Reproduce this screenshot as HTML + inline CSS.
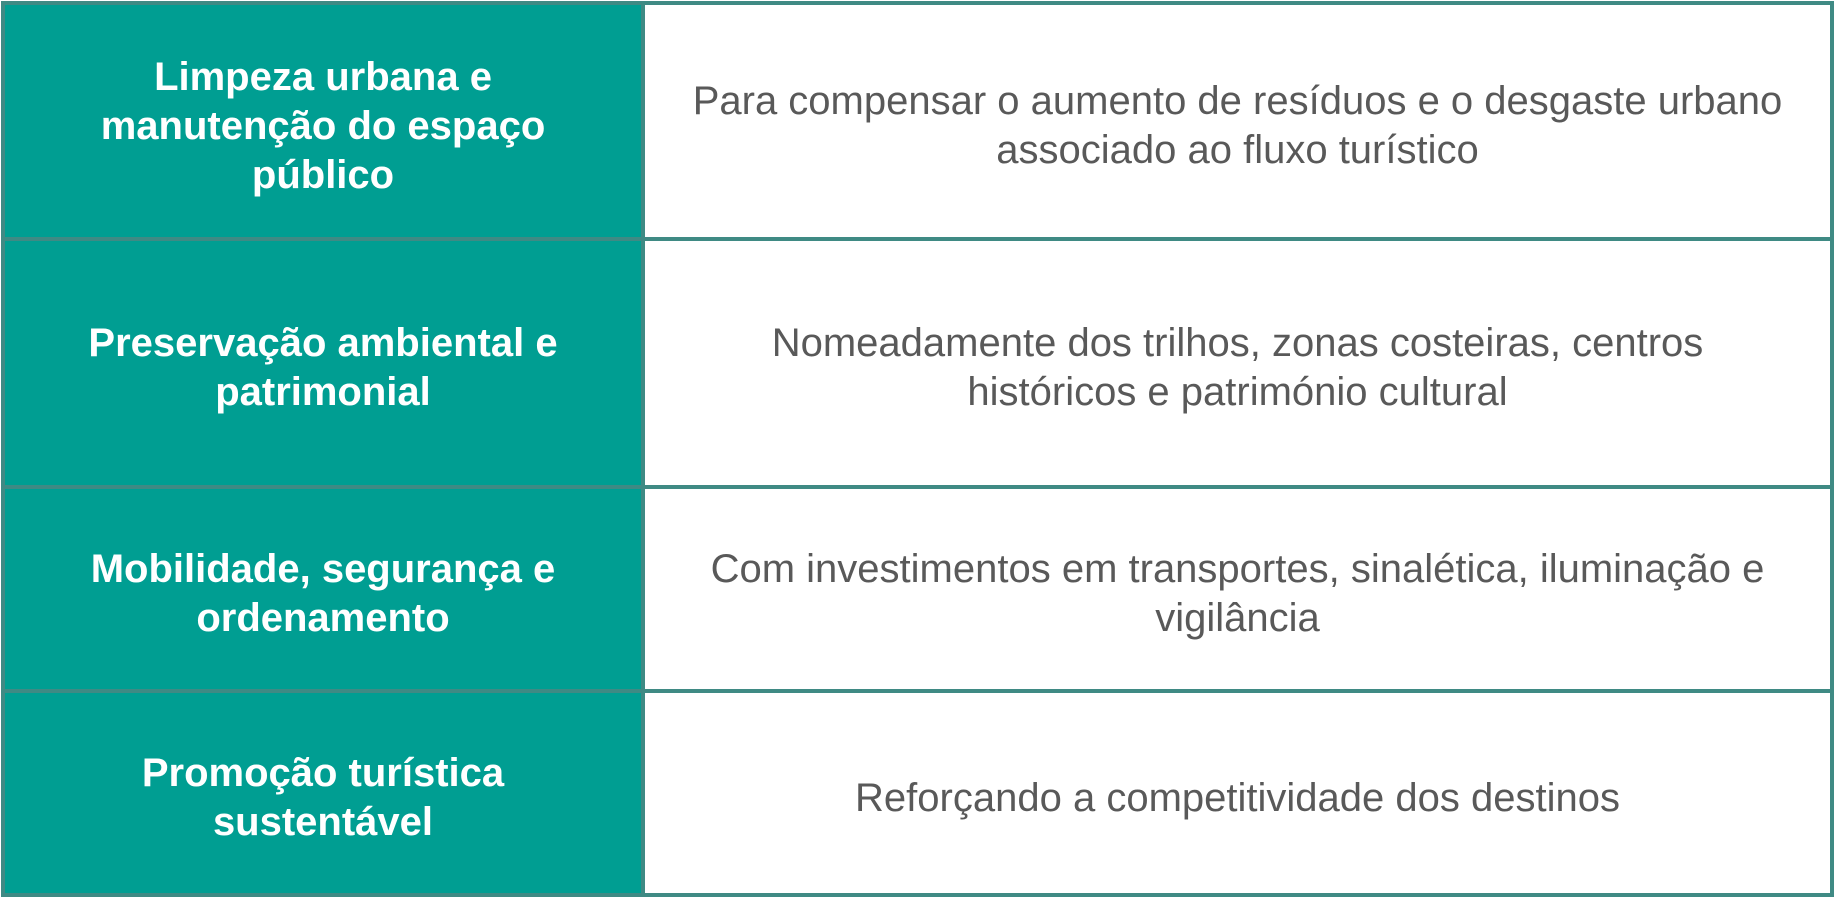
<!DOCTYPE html>
<html><head><style>
body{margin:0;width:1838px;height:901px;background:#fff;position:relative;overflow:hidden}
.l{position:absolute;background:#3f8a84}
.c{position:absolute;display:flex;align-items:center;justify-content:center;text-align:center;box-sizing:border-box;padding-top:10px}
.k{left:5px;width:636px;background:#009e92;color:#fff;font:bold 40px "Liberation Sans",sans-serif;line-height:49px}
.v{left:645px;width:1185px;color:#595959;font:40px "Liberation Sans",sans-serif;line-height:49px}
</style></head><body>
<div class="c k" style="top:5px;height:232px">Limpeza urbana e<br>manutenção do espaço<br>público</div>
<div class="c v" style="top:5px;height:232px">Para compensar o aumento de resíduos e o desgaste urbano<br>associado ao fluxo turístico</div>
<div class="c k" style="top:241px;height:244px">Preservação ambiental e<br>patrimonial</div>
<div class="c v" style="top:241px;height:244px">Nomeadamente dos trilhos, zonas costeiras, centros<br>históricos e património cultural</div>
<div class="c k" style="top:489px;height:200px">Mobilidade, segurança e<br>ordenamento</div>
<div class="c v" style="top:489px;height:200px">Com investimentos em transportes, sinalética, iluminação e<br>vigilância</div>
<div class="c k" style="top:693px;height:200px">Promoção turística<br>sustentável</div>
<div class="c v" style="top:693px;height:200px">Reforçando a competitividade dos destinos</div>
<div class="l" style="left:1px;top:1px;width:1833px;height:4px"></div>
<div class="l" style="left:1px;top:237px;width:1833px;height:4px"></div>
<div class="l" style="left:1px;top:485px;width:1833px;height:4px"></div>
<div class="l" style="left:1px;top:689px;width:1833px;height:4px"></div>
<div class="l" style="left:1px;top:893px;width:1833px;height:4px"></div>
<div class="l" style="left:1px;top:1px;width:4px;height:896px"></div>
<div class="l" style="left:641px;top:1px;width:4px;height:896px"></div>
<div class="l" style="left:1830px;top:1px;width:4px;height:896px"></div>
</body></html>
